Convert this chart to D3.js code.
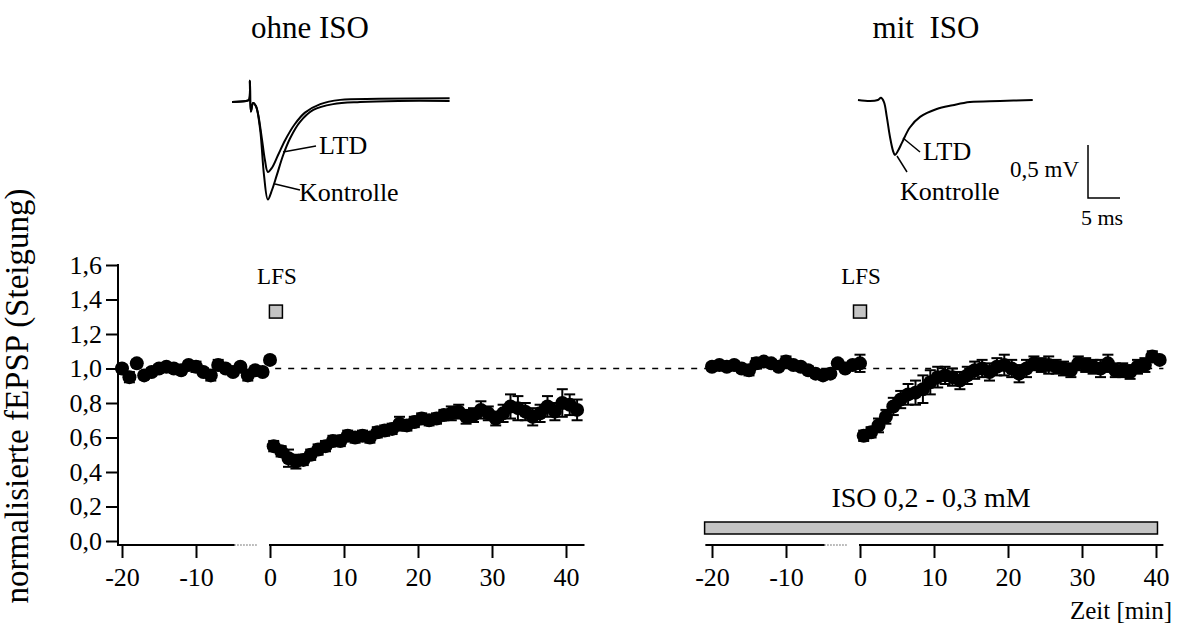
<!DOCTYPE html>
<html>
<head>
<meta charset="utf-8">
<script src="https://cdn.jsdelivr.net/npm/d3@7"></script>
<style>
  body { margin: 0; background: #fff; }
  svg text { font-family: "Liberation Serif", "Times New Roman", serif; fill: #000; }
</style>
</head>
<body>
<svg id="chart" width="1177" height="629"></svg>
<script>
// time points in minutes (LFS at 0)
const tPre = [-20, -19, -18, -17, -16, -15, -14, -13, -12, -11, -10, -9, -8, -7, -6, -5, -4, -3, -2, -1, 0];
const tPostOhne = [0.5, 1.5, 2.5, 3.5, 4.5, 5.5, 6.5, 7.5, 8.5, 9.5, 10.5, 11.5, 12.5, 13.5, 14.5, 15.5, 16.5, 17.5, 18.5, 19.5,
  20.5, 21.5, 22.5, 23.5, 24.5, 25.5, 26.5, 27.5, 28.5, 29.5, 30.5, 31.5, 32.5, 33.5, 34.5, 35.5, 36.5, 37.5, 38.5, 39.5, 40.5, 41.5];
const tPostMit = [0.5, 1.5, 2.5, 3.5, 4.5, 5.5, 6.5, 7.5, 8.5, 9.5, 10.5, 11.5, 12.5, 13.5, 14.5, 15.5, 16.5, 17.5, 18.5, 19.5,
  20.5, 21.5, 22.5, 23.5, 24.5, 25.5, 26.5, 27.5, 28.5, 29.5, 30.5, 31.5, 32.5, 33.5, 34.5, 35.5, 36.5, 37.5, 38.5, 39.5, 40.5];

// ohne ISO: normalised fEPSP slope and SEM
const ohnePre = [1.00, 0.95, 1.03, 0.96, 0.98, 1.00, 1.01, 1.00, 0.99, 1.02, 1.01, 0.98, 0.96, 1.02, 1.00, 0.98, 1.01, 0.96, 0.99, 0.98, 1.05];
const ohnePreErr = [0.02, 0.03, 0.02, 0.02, 0.02, 0.02, 0.02, 0.02, 0.02, 0.02, 0.03, 0.02, 0.03, 0.03, 0.02, 0.02, 0.02, 0.03, 0.02, 0.02, 0.02];
const ohnePost = [0.55, 0.52, 0.48, 0.46, 0.47, 0.50, 0.53, 0.55, 0.58, 0.58, 0.61, 0.60, 0.61, 0.60, 0.63, 0.64, 0.65, 0.68, 0.67, 0.69,
  0.71, 0.70, 0.71, 0.73, 0.74, 0.75, 0.72, 0.73, 0.76, 0.74, 0.71, 0.74, 0.78, 0.77, 0.75, 0.72, 0.74, 0.78, 0.75, 0.80, 0.79, 0.76];
const ohnePostErr = [0.03, 0.03, 0.05, 0.04, 0.03, 0.03, 0.03, 0.03, 0.03, 0.03, 0.03, 0.03, 0.03, 0.03, 0.03, 0.03, 0.03, 0.04, 0.03, 0.03,
  0.03, 0.03, 0.03, 0.03, 0.04, 0.04, 0.04, 0.04, 0.05, 0.04, 0.04, 0.05, 0.07, 0.07, 0.05, 0.05, 0.05, 0.06, 0.05, 0.08, 0.06, 0.06];

// mit ISO
const mitPre = [1.01, 1.02, 1.01, 1.02, 1.00, 0.99, 1.03, 1.04, 1.03, 1.01, 1.04, 1.02, 1.01, 0.99, 0.97, 0.96, 0.97, 1.03, 1.00, 1.02, 1.03];
const mitPreErr = [0.02, 0.02, 0.02, 0.02, 0.02, 0.03, 0.03, 0.02, 0.02, 0.02, 0.03, 0.02, 0.02, 0.02, 0.02, 0.02, 0.02, 0.02, 0.02, 0.02, 0.05];
const mitPost = [0.61, 0.63, 0.67, 0.72, 0.78, 0.82, 0.85, 0.86, 0.88, 0.92, 0.95, 0.96, 0.95, 0.93, 0.96, 0.99, 1.00, 0.98, 1.01, 1.02,
  1.00, 0.97, 1.00, 1.03, 1.02, 1.02, 1.01, 1.00, 0.99, 1.03, 1.02, 1.01, 1.00, 1.03, 0.99, 0.99, 0.98, 1.01, 1.02, 1.07, 1.05];
const mitPostErr = [0.03, 0.03, 0.04, 0.04, 0.05, 0.05, 0.06, 0.07, 0.08, 0.07, 0.06, 0.05, 0.05, 0.05, 0.05, 0.05, 0.05, 0.05, 0.05, 0.06,
  0.05, 0.05, 0.05, 0.04, 0.04, 0.05, 0.04, 0.04, 0.04, 0.04, 0.04, 0.04, 0.05, 0.05, 0.04, 0.04, 0.04, 0.04, 0.04, 0.03, 0.02];

const yTicks = [0, 0.2, 0.4, 0.6, 0.8, 1.0, 1.2, 1.4, 1.6];
const xTicks = [-20, -10, 0, 10, 20, 30, 40];
const lfsTime = [0.8, 0];          // LFS marker per panel
const isoRange = [-21, 40.2];      // ISO application (mit ISO)

// example traces: [ms, mV], relative to baseline
const traceKontrolleOhne = [[0, 0], [2.2, 0.01], [2.65, 0.02], [2.8, 0.2], [2.95, -0.09], [3.3, -0.01], [3.75, -0.04], [4.4, -0.26],
  [5.0, -0.69], [5.6, -0.92], [6.25, -0.83], [7.0, -0.69], [8.0, -0.5], [9.1, -0.34], [10.6, -0.19], [12.7, -0.075], [15.8, -0.02],
  [20, 0], [26, 0.01], [34, 0.01]];
const traceLtdOhne = [[0, 0], [2.2, 0.01], [2.65, 0.02], [2.8, 0.2], [2.95, -0.09], [3.3, -0.01], [3.75, -0.04], [4.1, -0.12],
  [4.7, -0.36], [5.15, -0.55], [5.6, -0.66], [6.25, -0.62], [7.2, -0.5], [8.3, -0.36], [9.8, -0.21], [11.4, -0.1], [13.8, -0.02],
  [16.9, 0.02], [23, 0.03], [34, 0.035]];
const traceMit = [[0, 0.01], [1.9, 0], [3.1, 0.01], [3.6, 0.03], [4.06, -0.01], [4.5, -0.15], [5.0, -0.34], [5.47, -0.47],
  [5.78, -0.51], [6.25, -0.47], [6.9, -0.39], [8.1, -0.25], [9.7, -0.15], [12.3, -0.075], [14.8, -0.04], [17.5, -0.01],
  [22.2, 0], [27.3, 0.01]];

const svg = d3.select("#chart");

// scales
const y = d3.scaleLinear().domain([0, 1.6]).range([541, 265]);
const xA = d3.scaleLinear().domain([-20, 40]).range([122, 566]);
const xB = d3.scaleLinear().domain([-20, 40]).range([712, 1156]);
const axisY = 545;

const comma = d => d3.format(".1f")(d).replace(".", ",");

// titles
svg.append("text").attr("x", 310).attr("y", 38).attr("text-anchor", "middle")
  .style("font-size", "31px").text("ohne ISO");
svg.append("text").attr("x", 926).attr("y", 38).attr("text-anchor", "middle")
  .style("font-size", "31px").text("mit\u00a0\u00a0ISO");

// y axis
const gy = svg.append("g").attr("transform", "translate(118,0)")
  .call(d3.axisLeft(y).tickValues(yTicks).tickFormat(comma).tickSize(12).tickPadding(4));
gy.select(".domain").remove();
gy.selectAll("line").attr("stroke", "#000").attr("stroke-width", 2);
gy.selectAll("text").style("font-size", "26px").attr("font-family", null);
svg.append("line").attr("x1", 118).attr("x2", 118).attr("y1", y(1.6) - 1).attr("y2", axisY + 1)
  .attr("stroke", "#000").attr("stroke-width", 2);

svg.append("text")
  .attr("transform", "translate(28,396) rotate(-90)")
  .attr("text-anchor", "middle")
  .style("font-size", "33px")
  .text("normalisierte fEPSP (Steigung)");

// x axes with break before 0
function xAxis(x, start, end) {
  const g = svg.append("g").attr("transform", `translate(0,${axisY})`)
    .call(d3.axisBottom(x).tickValues(xTicks).tickFormat(d => String(d)).tickSize(13).tickPadding(10));
  g.select(".domain").remove();
  g.selectAll("line").attr("stroke", "#000").attr("stroke-width", 2);
  g.selectAll("text").style("font-size", "26px").attr("font-family", null);
  g.append("line").attr("x1", x(start)).attr("x2", x(-4.8)).attr("stroke", "#000").attr("stroke-width", 2);
  g.append("line").attr("x1", x(-4.8)).attr("x2", x(-1.8)).attr("stroke", "#000").attr("stroke-width", 1)
    .attr("stroke-dasharray", "1,2");
  g.append("line").attr("x1", x(0) - 1).attr("x2", x(end)).attr("stroke", "#000").attr("stroke-width", 2);
}
xAxis(xA, -20.5, 42.5);
xAxis(xB, -20.9, 41);

svg.append("text").attr("x", 1172).attr("y", 619).attr("text-anchor", "end")
  .style("font-size", "25px").text("Zeit [min]");

// dashed 1.0 reference line spanning both panels
svg.append("line")
  .attr("x1", xA(0.7)).attr("x2", xB(41))
  .attr("y1", y(1)).attr("y2", y(1))
  .attr("stroke", "#000").attr("stroke-width", 1.5).attr("stroke-dasharray", "6,7");

// LFS markers
[xA, xB].forEach((x, i) => {
  const cx = x(lfsTime[i]);
  svg.append("rect").attr("x", cx - 6.5).attr("y", y(1.33) - 6.5).attr("width", 13).attr("height", 13)
    .attr("fill", "#c4c4c4").attr("stroke", "#000").attr("stroke-width", 1.5);
  svg.append("text").attr("x", cx + 1).attr("y", y(1.49)).attr("text-anchor", "middle")
    .style("font-size", "23px").text("LFS");
});

// ISO bar
svg.append("rect")
  .attr("x", xB(isoRange[0])).attr("y", 522)
  .attr("width", xB(isoRange[1]) - xB(isoRange[0])).attr("height", 12)
  .attr("fill", "#c4c4c4").attr("stroke", "#000").attr("stroke-width", 1.5);
svg.append("text").attr("x", (xB(isoRange[0]) + xB(isoRange[1])) / 2).attr("y", 507)
  .attr("text-anchor", "middle").style("font-size", "28px").text("ISO 0,2 - 0,3 mM");

// data points with error bars
function series(x, t, v, e) {
  const data = t.map((d, i) => ({ t: d, v: v[i], e: e[i] }));
  const g = svg.append("g");
  const bars = g.selectAll("g.err").data(data).enter().append("g").attr("class", "err")
    .attr("stroke", "#000").attr("stroke-width", 2);
  bars.append("line").attr("x1", d => x(d.t)).attr("x2", d => x(d.t))
    .attr("y1", d => y(d.v - d.e)).attr("y2", d => y(d.v + d.e));
  bars.append("line").attr("x1", d => x(d.t) - 5.5).attr("x2", d => x(d.t) + 5.5)
    .attr("y1", d => y(d.v + d.e)).attr("y2", d => y(d.v + d.e));
  bars.append("line").attr("x1", d => x(d.t) - 5.5).attr("x2", d => x(d.t) + 5.5)
    .attr("y1", d => y(d.v - d.e)).attr("y2", d => y(d.v - d.e));
  g.selectAll("circle").data(data).enter().append("circle")
    .attr("cx", d => x(d.t)).attr("cy", d => y(d.v)).attr("r", 7).attr("fill", "#000");
}
series(xA, tPre, ohnePre, ohnePreErr);
series(xA, tPostOhne, ohnePost, ohnePostErr);
series(xB, tPre, mitPre, mitPreErr);
series(xB, tPostMit, mitPost, mitPostErr);

// example traces (5 ms = 32 px, 0.5 mV = 53 px)
const tx = d3.scaleLinear().domain([0, 5]).range([0, 32]);
const ty = d3.scaleLinear().domain([0, 0.5]).range([0, -53]);
const traceLine = (ox, oy) => d3.line()
  .x(d => ox + tx(d[0])).y(d => oy + ty(d[1]))
  .curve(d3.curveCatmullRom.alpha(0.5));

function trace(pts, ox, oy) {
  svg.append("path").attr("d", traceLine(ox, oy)(pts))
    .attr("fill", "none").attr("stroke", "#000").attr("stroke-width", 2);
}
trace(traceKontrolleOhne, 232, 102);
trace(traceLtdOhne, 232, 102);
trace(traceMit, 858, 101);

// trace labels with leader lines
function label(x1, y1, x2, y2, tx0, ty0, txt) {
  svg.append("line").attr("x1", x1).attr("y1", y1).attr("x2", x2).attr("y2", y2)
    .attr("stroke", "#000").attr("stroke-width", 1.5);
  svg.append("text").attr("x", tx0).attr("y", ty0).style("font-size", "26px").text(txt);
}
label(283, 152, 316, 146, 319, 154, "LTD");
label(275, 184, 300, 190, 299, 201, "Kontrolle");
label(903, 138, 920, 152, 923, 160, "LTD");
label(897, 156, 907, 172, 900, 200, "Kontrolle");

// scale bar
const sbX = 1088, sbY = 198;
svg.append("path")
  .attr("d", `M${sbX},${sbY + ty(0.5)}V${sbY}H${sbX + tx(5)}`)
  .attr("fill", "none").attr("stroke", "#000").attr("stroke-width", 1.5);
svg.append("text").attr("x", sbX - 9).attr("y", 177).attr("text-anchor", "end")
  .style("font-size", "23px").text("0,5 mV");
svg.append("text").attr("x", sbX - 7).attr("y", 225)
  .style("font-size", "22px").text("5 ms");
</script>
</body>
</html>
